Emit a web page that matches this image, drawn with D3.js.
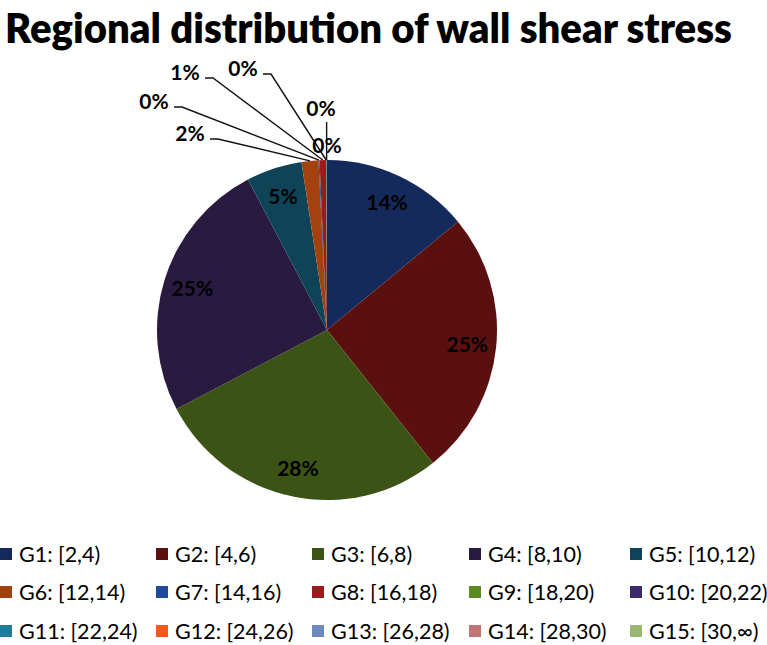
<!DOCTYPE html>
<html>
<head>
<meta charset="utf-8">
<script src="https://cdn.jsdelivr.net/npm/d3@7"></script>
<style>
  html, body { margin: 0; padding: 0; background: #fff; }
  svg { display: block; }
</style>
</head>
<body>
<svg id="chart" width="767" height="645"></svg>
<script>
// ---- data ----
const title = "Regional distribution of wall shear stress";
const categories = ["G1: [2,4)", "G2: [4,6)", "G3: [6,8)", "G4: [8,10)", "G5: [10,12)",
  "G6: [12,14)", "G7: [14,16)", "G8: [16,18)", "G9: [18,20)", "G10: [20,22)",
  "G11: [22,24)", "G12: [24,26)", "G13: [26,28)", "G14: [28,30)", "G15: [30,∞)"];
const values = [14.0, 25.3, 28.0, 25.0, 5.3, 1.6, 0.1, 0.6, 0.05, 0.03, 0.02, 0, 0, 0, 0];
const colors = ["#142a5c", "#5b1010", "#3b5416", "#291b40", "#0f4458",
  "#a3420f", "#1f4a9a", "#9a1b1b", "#5a8a22", "#3d2a6c",
  "#1e7b9c", "#f05a1c", "#6f89c0", "#c07474", "#9ab872"];

// ---- layout ----
const W = 767, H = 645;
const cx = 327, cy = 330, R = 170, labelR = 141;
// manual label positions for the thin slices (index -> [x, y])
const smallLabelPos = { 5: [190, 133], 6: [154, 101], 7: [185, 72], 8: [243, 68], 9: [321, 108], 10: [327, 145] };
const legendCols = [0, 156, 312, 469, 630];
const legendRows = [554, 592, 631];
const fontFam = "Lato, 'Open Sans', 'Liberation Sans', sans-serif";

const svg = d3.select("#chart");

const titleText = svg.append("text")
  .attr("x", 0).attr("y", 0)
  .attr("font-family", fontFam)
  .attr("font-weight", 800)
  .attr("font-size", 40)
  .attr("fill", "#000")
  .text(title);
const tw = titleText.node().getComputedTextLength();
titleText.attr("transform", `translate(5,43) scale(${727 / tw},1.05)`);

const data = categories.map((c, i) => ({ name: c, value: values[i], color: colors[i], i }));
const total = d3.sum(values);
const pie = d3.pie().sort(null).value(d => d.value);
const arcs = pie(data);
const arc = d3.arc().innerRadius(0).outerRadius(R);
const labelArc = d3.arc().innerRadius(labelR).outerRadius(labelR);
const pct = v => Math.round(v / total * 100) + "%";

const g = svg.append("g").attr("transform", `translate(${cx},${cy})`);
g.selectAll("path.slice")
  .data(arcs.filter(d => d.data.value > 0))
  .join("path")
  .attr("class", "slice")
  .attr("d", arc)
  .attr("fill", d => d.data.color);

// big labels
g.selectAll("text.big")
  .data(arcs.filter(d => d.data.value >= 3))
  .join("text")
  .attr("class", "big")
  .attr("transform", d => `translate(${labelArc.centroid(d)})`)
  .attr("text-anchor", "middle")
  .attr("dy", "0.36em")
  .attr("font-family", fontFam)
  .attr("font-weight", 700)
  .attr("font-size", 21)
  .attr("fill", "#000")
  .text(d => pct(d.data.value));

// small labels with leader lines
const small = arcs.filter(d => d.data.value > 0 && d.data.value < 3);
const lines = svg.append("g");
small.forEach(d => {
  const pos = smallLabelPos[d.data.i];
  if (!pos) return;
  const mid = (d.startAngle + d.endAngle) / 2;
  const ex = cx + R * Math.sin(mid), ey = cy - R * Math.cos(mid);
  const [lx, ly] = pos;
  if (d.data.i <= 8) {
    const sx = lx + 20, sy = ly + 6;
    lines.append("polyline")
      .attr("points", `${sx},${sy} ${sx + 8},${sy} ${ex},${ey}`)
      .attr("fill", "none").attr("stroke", "#111").attr("stroke-width", 1.4);
  } else if (d.data.i === 9) {
    lines.append("line")
      .attr("x1", ex).attr("y1", ly + 14).attr("x2", ex).attr("y2", ey)
      .attr("stroke", "#111").attr("stroke-width", 1.4);
  }
});
svg.append("g").selectAll("text")
  .data(small.filter(d => smallLabelPos[d.data.i]))
  .join("text")
  .attr("x", d => smallLabelPos[d.data.i][0])
  .attr("y", d => smallLabelPos[d.data.i][1])
  .attr("text-anchor", "middle")
  .attr("dy", "0.36em")
  .attr("font-family", fontFam)
  .attr("font-weight", 700)
  .attr("font-size", 21)
  .attr("fill", "#000")
  .text(d => pct(d.data.value));

// legend
const leg = svg.append("g");
data.forEach((d, i) => {
  const x = legendCols[i % 5], y = legendRows[Math.floor(i / 5)];
  leg.append("rect").attr("x", x).attr("y", y - 6).attr("width", 12).attr("height", 12).attr("fill", d.color);
  leg.append("text").attr("x", x + 19).attr("y", y).attr("dy", "0.36em")
    .attr("font-family", fontFam).attr("font-size", 21.5).attr("fill", "#000")
    .text(d.name);
});
</script>
</body>
</html>
